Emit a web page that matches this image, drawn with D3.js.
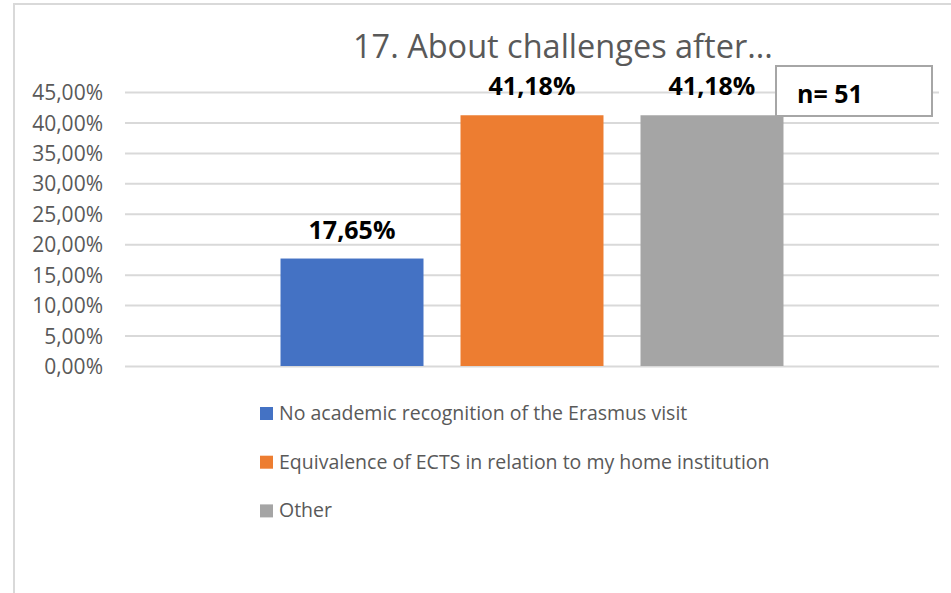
<!DOCTYPE html>
<html>
<head>
<meta charset="utf-8">
<script src="https://cdn.jsdelivr.net/npm/d3@7"></script>
<style>
  html, body { margin: 0; padding: 0; background: #fff; }
  svg { display: block; }
  text { font-family: "Open Sans", sans-serif; }
</style>
</head>
<body>
<svg id="chart" width="951" height="593"></svg>
<script>
const title = "17. About challenges after...";
const categories = [
  "No academic recognition of the Erasmus visit",
  "Equivalence of ECTS in relation to my home institution",
  "Other"
];
const values = [0.1765, 0.4118, 0.4118];
const valueLabels = ["17,65%", "41,18%", "41,18%"];
const colors = ["#4472c4", "#ed7d31", "#a5a5a5"];
const yTicks = [0, 0.05, 0.10, 0.15, 0.20, 0.25, 0.30, 0.35, 0.40, 0.45];
const nLabel = "n= 51";

const svg = d3.select("#chart");

// outer chart border (extends past right/bottom edges)
svg.append("rect")
  .attr("x", 14).attr("y", 4)
  .attr("width", 1000).attr("height", 700)
  .attr("fill", "#fff")
  .attr("stroke", "#d9d9d9").attr("stroke-width", 2);

const plot = { left: 125, right: 939, top: 92, bottom: 366 };

const y = d3.scaleLinear().domain([0, 0.45]).range([plot.bottom, plot.top]);
const x = d3.scaleBand().domain(categories)
  .range([plot.left, plot.right])
  .paddingInner(0.2056).paddingOuter(0.864);

const fmt = v => d3.format(".2f")(v * 100).replace(".", ",") + "%";

// gridlines + tick labels via axis
const yAxis = d3.axisLeft(y)
  .tickValues(yTicks)
  .tickSize(-(plot.right - plot.left))
  .tickPadding(22)
  .tickFormat(fmt);

const gy = svg.append("g")
  .attr("transform", `translate(${plot.left},0)`)
  .call(yAxis);
gy.select(".domain").remove();
gy.selectAll(".tick line")
  .attr("stroke", "#d9d9d9").attr("stroke-width", 2);
gy.selectAll(".tick text")
  .attr("fill", "#595959")
  .attr("font-size", 21)
  .attr("dy", "0.36em")
  .style("font-family", "'Open Sans', sans-serif");

// bars
svg.append("g").selectAll("rect")
  .data(categories)
  .join("rect")
  .attr("x", d => x(d))
  .attr("width", x.bandwidth())
  .attr("y", (d, i) => y(values[i]))
  .attr("height", (d, i) => y(0) - y(values[i]))
  .attr("fill", (d, i) => colors[i]);

// data labels
svg.append("g").selectAll("text")
  .data(categories)
  .join("text")
  .attr("x", d => x(d) + x.bandwidth() / 2)
  .attr("y", (d, i) => y(values[i]) - 20)
  .attr("text-anchor", "middle")
  .attr("font-size", 25)
  .attr("font-weight", "bold")
  .attr("fill", "#000")
  .text((d, i) => valueLabels[i]);

// title
svg.append("text")
  .attr("x", 353).attr("y", 58)
  .attr("font-size", 32.5)
  .attr("fill", "#595959")
  .text(title);

// n box
svg.append("rect")
  .attr("x", 776).attr("y", 66)
  .attr("width", 156).attr("height", 50)
  .attr("fill", "#fff")
  .attr("stroke", "#a6a6a6").attr("stroke-width", 2);
svg.append("text")
  .attr("x", 797).attr("y", 103)
  .attr("font-size", 25)
  .attr("font-weight", "bold")
  .attr("fill", "#000")
  .text(nLabel);

// legend
const legend = svg.append("g");
const lg = legend.selectAll("g")
  .data(categories)
  .join("g")
  .attr("transform", (d, i) => `translate(260, ${407 + i * 48.7})`);
lg.append("rect")
  .attr("width", 13).attr("height", 13)
  .attr("fill", (d, i) => colors[i]);
lg.append("text")
  .attr("x", 19).attr("y", 13)
  .attr("font-size", 19.5)
  .attr("fill", "#595959")
  .text(d => d);
</script>
</body>
</html>
